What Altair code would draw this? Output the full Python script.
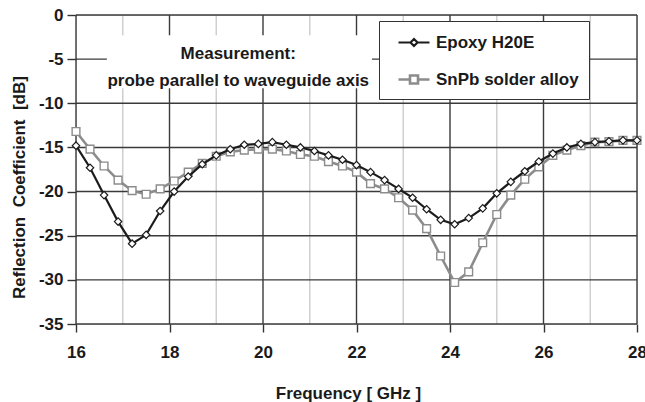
import altair as alt
import pandas as pd

freq = [16.0, 16.3, 16.6, 16.9, 17.2, 17.5, 17.8, 18.1, 18.4, 18.7, 19.0, 19.3, 19.6, 19.9,
        20.2, 20.5, 20.8, 21.1, 21.4, 21.7, 22.0, 22.3, 22.6, 22.9, 23.2, 23.5, 23.8, 24.1,
        24.4, 24.7, 25.0, 25.3, 25.6, 25.9, 26.2, 26.5, 26.8, 27.1, 27.4, 27.7, 28.0]
epoxy = [-14.8, -17.3, -20.4, -23.4, -25.9, -24.9, -22.2, -20.0, -18.3, -16.9, -15.9, -15.2,
         -14.7, -14.6, -14.4, -14.7, -15.0, -15.4, -15.9, -16.4, -17.0, -17.8, -18.7, -19.7,
         -20.7, -22.0, -23.2, -23.7, -23.0, -21.9, -20.2, -18.9, -17.7, -16.6, -15.7, -15.0,
         -14.6, -14.4, -14.3, -14.2, -14.2]
snpb = [-13.2, -15.2, -17.1, -18.7, -19.9, -20.3, -19.7, -18.8, -17.8, -16.8, -16.0, -15.5,
        -15.3, -15.2, -15.2, -15.4, -15.8, -16.0, -16.6, -17.1, -17.8, -19.1, -19.7, -20.7,
        -22.1, -24.2, -27.3, -30.3, -29.1, -25.8, -22.6, -20.4, -18.6, -17.2, -15.9, -15.3,
        -14.8, -14.4, -14.35, -14.2, -14.2]
series_names = ["Epoxy H20E", "SnPb solder alloy"]
series_colors = ["#1c1c1c", "#8c8c8c"]
x_major = [16, 18, 20, 22, 24, 26, 28]
x_minor = [17, 19, 21, 23, 25, 27]
y_major = [0, -5, -10, -15, -20, -25, -30, -35]
note_lines = ["Measurement:", "probe parallel to waveguide axis"]
y_title = "Reflection\u00a0\u00a0Coefficient\u00a0\u00a0[dB]"
x_title = "Frequency [ GHz ]"

FONT = "Liberation Sans"
TXT = "#1a1a1a"

df = pd.DataFrame({
    "freq": freq * 2,
    "val": epoxy + snpb,
    "series": [series_names[0]] * len(freq) + [series_names[1]] * len(freq),
})

xs = alt.Scale(domain=[16, 28], nice=False, zero=False)
ys = alt.Scale(domain=[-35, 0], nice=False, zero=False)

minor = alt.Chart(pd.DataFrame({"x": x_minor})).mark_rule(
    color="#cfcfcf", strokeWidth=1.5
).encode(x=alt.X("x:Q", scale=xs))

vmajor = alt.Chart(pd.DataFrame({"x": x_major})).mark_rule(
    color="#3a3a3a", strokeWidth=1.4
).encode(x=alt.X("x:Q", scale=xs))

hmajor = alt.Chart(pd.DataFrame({"y": y_major})).mark_rule(
    color="#3a3a3a", strokeWidth=1.4
).encode(y=alt.Y("y:Q", scale=ys))

box = alt.Chart(pd.DataFrame({"x1": [16.66], "x2": [22.33], "y1": [-2.3], "y2": [-8.3]})).mark_rect(
    color="white"
).encode(x=alt.X("x1:Q", scale=xs), x2="x2:Q", y=alt.Y("y1:Q", scale=ys), y2="y2:Q")

note = alt.Chart(pd.DataFrame({"x": [19.47], "y": [-4.45]})).mark_text(
    text=note_lines, font=FONT, fontSize=17, fontWeight="bold", color=TXT,
    align="center", baseline="middle", lineHeight=27
).encode(x=alt.X("x:Q", scale=xs), y=alt.Y("y:Q", scale=ys))

color_scale = alt.Scale(domain=series_names, range=series_colors)
width_scale = alt.Scale(domain=series_names, range=[2.2, 2.6])

p_epoxy = "M-0.2,0L1,0M1.7,0L2.9,0M1,0L1.35,-0.35L1.7,0L1.35,0.35Z"
p_snpb = "M-0.2,0L0.95,0M1.75,0L2.9,0M0.95,-0.4L1.75,-0.4L1.75,0.4L0.95,0.4Z"
shape_expr = f"datum.value == '{series_names[0]}' ? '{p_epoxy}' : '{p_snpb}'"

legend = alt.Legend(
    orient="none", legendX=303, legendY=6, title=None,
    fillColor="white", strokeColor="#333333", padding=10, rowPadding=17,
    symbolSize=400, symbolStrokeWidth=2, labelOffset=24,
    symbolType={"expr": shape_expr}, symbolFillColor="white",
    labelFont=FONT, labelFontSize=17, labelFontWeight="bold", labelColor=TXT,
    labelExpr="datum.label + '  '",
)

def line_layer(name, leg):
    return alt.Chart(df).transform_filter(alt.datum.series == name).mark_line().encode(
        x=alt.X("freq:Q", scale=xs),
        y=alt.Y("val:Q", scale=ys),
        stroke=alt.Stroke("series:N", scale=color_scale, legend=leg),
        strokeWidth=alt.StrokeWidth("series:N", scale=width_scale, legend=None),
    )

def point_layer(name, shape, size, color, sw):
    return alt.Chart(df).transform_filter(alt.datum.series == name).mark_point(
        shape=shape, size=size, filled=True, fill="white", stroke=color, strokeWidth=sw, opacity=1
    ).encode(
        x=alt.X("freq:Q", scale=xs),
        y=alt.Y("val:Q", scale=ys),
    )

snpb_line = line_layer(series_names[1], legend)
snpb_pts = point_layer(series_names[1], "square", 60, series_colors[1], 1.4)
epoxy_line = line_layer(series_names[0], legend)
epoxy_pts = point_layer(series_names[0], "diamond", 55, series_colors[0], 1.2)

axes = alt.Chart(df).mark_point(opacity=0).encode(
    x=alt.X("freq:Q", scale=xs, axis=alt.Axis(
        values=x_major, title=x_title, grid=False, domain=False,
        tickSize=8, tickColor="#333333", tickWidth=1.4,
        labelFont=FONT, labelFontSize=17, labelFontWeight="bold", labelColor=TXT,
        labelBaseline="alphabetic", labelPadding=25, labelFlush=False,
        titleFont=FONT, titleFontSize=17, titleFontWeight="bold", titleColor=TXT,
        titleX=272, titleY=69, titleBaseline="middle", titleAnchor="start", titleAlign="center",
    )),
    y=alt.Y("val:Q", scale=ys, axis=alt.Axis(
        values=y_major, title=y_title, grid=False, domain=False,
        tickSize=9, tickColor="#333333", tickWidth=1.4,
        labelExpr="toString(datum.value)",
        labelFont=FONT, labelFontSize=17, labelFontWeight="bold", labelColor=TXT,
        labelPadding=4, labelFlush=False,
        titleFont=FONT, titleFontSize=17, titleFontWeight="bold", titleColor=TXT,
        titleX=-57, titleY=172, titleBaseline="middle", titleAnchor="start", titleAlign="center",
    )),
)

chart = alt.layer(
    minor, vmajor, hmajor, box, note, axes, snpb_line, snpb_pts, epoxy_line, epoxy_pts
).properties(
    width=561, height=309,
    padding={"left": 76, "top": 15, "right": 8, "bottom": 78},
    autosize=alt.AutoSizeParams(type="none"),
).configure_view(
    stroke="#222222", strokeWidth=1.5
).configure(background="white")

chart.save("out.html", embed_options={"renderer": "svg", "actions": False})
